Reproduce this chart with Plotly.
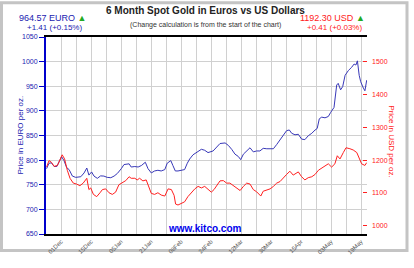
import plotly.graph_objects as go

# ---------------- data ----------------
# x = trading-day index from the start of the 6-month window
eur_day = [0.2, 1.0, 1.8, 2.7, 3.6, 4.3, 5.2, 6.0, 6.9, 7.7, 8.8, 9.9, 11.6, 12.7, 13.6, 14.3,
           15.2, 16.0, 17.1, 18.2, 19.3, 20.4, 21.6, 22.7, 23.8, 25.1, 26.0, 27.7, 28.4, 29.6,
           30.7, 31.8, 33.1, 34.0, 35.1, 36.2, 37.3, 38.4, 39.6, 40.4, 41.6, 42.3, 43.1, 44.0,
           45.1, 46.2, 47.1, 47.9, 49.0, 50.7, 51.8, 52.9, 54.0, 55.7, 58.0, 59.7, 60.8, 61.9,
           63.0, 64.1, 64.9, 65.8, 66.9, 68.0, 69.1, 70.2, 71.3, 72.4, 73.6, 74.7, 75.8, 76.9,
           78.0, 79.1, 80.2, 81.1, 81.9, 83.0, 84.1, 85.2, 86.3, 87.4, 88.6, 89.7, 90.4, 91.1,
           91.9, 93.0, 94.1, 94.9, 96.0, 96.9, 97.4, 98.2, 98.9, 99.7, 100.8, 101.9, 102.7,
           103.3, 103.8, 104.4, 104.9, 105.8, 106.3, 106.9]
eur_price = [782.7, 793.7, 794.5, 787.2, 787.0, 795.7, 806.8, 799.0, 784.7, 780.8, 767.6, 765.0,
             766.3, 774.0, 784.0, 769.6, 776.0, 767.6, 763.0, 768.0, 767.6, 765.0, 764.3, 767.6,
             773.0, 782.7, 791.0, 792.5, 786.0, 787.0, 786.0, 789.0, 795.7, 782.7, 774.0, 778.0,
             779.4, 778.0, 780.8, 793.7, 799.0, 789.0, 778.0, 778.0, 779.4, 780.8, 793.7, 802.3,
             810.8, 816.7, 822.0, 820.0, 815.3, 818.6, 833.7, 834.9, 829.8, 821.9, 812.1, 807.4,
             801.0, 812.1, 818.6, 825.1, 816.7, 818.6, 818.6, 823.9, 823.1, 823.1, 823.1, 831.7,
             841.6, 851.4, 859.8, 861.2, 854.5, 851.4, 852.5, 842.7, 841.6, 849.4, 854.5, 861.2,
             864.3, 883.9, 887.3, 885.9, 888.6, 897.0, 906.9, 952.5, 955.9, 942.7, 949.4, 972.2,
             982.0, 988.6, 995.1, 993.1, 1001.6, 972.2, 959.2, 946.1, 940.8, 962.3]

usd_day = [0.2, 1.0, 1.8, 2.7, 3.8, 4.7, 5.4, 6.2, 7.1, 8.0, 9.1, 10.2, 11.3, 12.4, 13.6, 14.3,
           14.9, 15.8, 16.9, 18.0, 18.8, 19.9, 21.0, 22.1, 23.2, 24.3, 25.4, 26.6, 27.7, 28.4,
           29.6, 30.4, 31.2, 32.3, 33.4, 34.2, 35.1, 36.2, 37.3, 38.4, 39.6, 40.7, 41.8, 42.7,
           43.2, 44.0, 45.1, 46.2, 47.3, 48.4, 49.6, 50.7, 51.8, 52.9, 54.0, 55.1, 56.0, 57.0,
           58.0, 59.1, 60.2, 61.3, 63.0, 64.7, 65.8, 66.9, 68.0, 69.1, 70.2, 71.6, 72.4, 73.6,
           74.7, 75.8, 76.9, 78.0, 79.1, 80.2, 81.3, 82.4, 84.1, 85.2, 86.3, 87.4, 88.6, 89.7,
           90.8, 91.9, 93.0, 94.1, 95.2, 96.3, 97.1, 98.0, 99.1, 100.0, 101.3, 102.4, 103.6,
           104.4, 105.2, 106.3, 106.9]
usd_price = [1178.8, 1198.5, 1193.5, 1180.9, 1183.8, 1203.6, 1216.2, 1203.6, 1169.1, 1144.7,
             1130.0, 1127.1, 1122.1, 1130.0, 1144.7, 1110.3, 1115.3, 1095.6, 1088.8, 1100.6,
             1110.3, 1112.4, 1100.6, 1095.6, 1102.4, 1125.0, 1130.0, 1137.7, 1149.4, 1144.7,
             1144.7, 1139.7, 1144.7, 1136.8, 1139.7, 1120.0, 1098.6, 1095.6, 1100.6, 1093.6,
             1090.6, 1112.4, 1110.3, 1092.7, 1066.2, 1063.3, 1069.1, 1073.0, 1088.8, 1100.6,
             1112.4, 1120.0, 1115.3, 1120.0, 1110.3, 1102.4, 1110.3, 1125.0, 1136.8, 1137.7,
             1130.0, 1130.0, 1120.0, 1107.4, 1120.0, 1130.0, 1127.1, 1110.3, 1103.6, 1090.6,
             1105.3, 1110.3, 1112.4, 1120.0, 1130.0, 1134.7, 1146.5, 1156.5, 1166.2, 1154.4,
             1164.1, 1149.4, 1139.7, 1146.5, 1149.4, 1156.5, 1169.1, 1175.9, 1180.9, 1188.8,
             1178.8, 1188.8, 1213.3, 1203.6, 1223.0, 1237.7, 1234.7, 1230.9, 1223.0, 1203.6,
             1188.8, 1183.8, 1192.3]

date_ticks = [5, 15, 25, 35, 45, 55, 65, 75, 85, 95, 105]
date_labels = ["01Dec", "15Dec", "05Jan", "21Jan", "08Feb", "24Feb", "12Mar", "30Mar",
               "15Apr", "03May", "19May"]
eur_ticks = [650, 700, 750, 800, 850, 900, 950, 1000, 1050]
usd_ticks = [1000, 1100, 1200, 1300, 1400, 1500, 1575]
usd_labels = ["1000", "1100", "1200", "1300", "1400", "1500", ""]

# ---------------- layout geometry (pixels) ----------------
W, H = 414, 268
L, R, T, B = 46, 367, 37, 241
FONT = "Arial, Liberation Sans, sans-serif"
BLUE = "#1a1ab0"
RED = "#ff2020"


def px(x):
    return (x - L) / (R - L)


def py(y):
    return (B - y) / (B - T)


fig = go.Figure()
fig.add_trace(go.Scatter(x=eur_day, y=eur_price, mode="lines",
                         line=dict(color="#3838b8", width=1), yaxis="y", showlegend=False))
fig.add_trace(go.Scatter(x=usd_day, y=usd_price, mode="lines",
                         line=dict(color=RED, width=1), yaxis="y2", showlegend=False))

fig.update_layout(
    width=W, height=H,
    margin=dict(l=L, r=W - R, t=T, b=H - B, pad=0),
    paper_bgcolor="white", plot_bgcolor="white",
    font=dict(family=FONT),
    xaxis=dict(range=[0, 107], tickvals=date_ticks, ticktext=date_labels, tickangle=-45,
               tickfont=dict(size=6, color="#555555"), showgrid=True, gridcolor="#d0d0d0",
               gridwidth=1, minor=dict(tick0=0, dtick=5, showgrid=True, gridcolor="#d0d0d0"),
               showline=True, linecolor="black", linewidth=1.5, mirror=True, ticks="",
               zeroline=False, fixedrange=True),
    yaxis=dict(range=[650, 1050], tickvals=eur_ticks, tickfont=dict(size=7, color=BLUE),
               showgrid=True, gridcolor="#d0d0d0", showline=True, linecolor="#0000cc",
               linewidth=2, ticks="outside", ticklen=5, tickcolor="#0000cc", zeroline=False),
    yaxis2=dict(range=[975, 1575], overlaying="y", side="right", tickvals=usd_ticks,
                ticktext=usd_labels, tickfont=dict(size=7, color=RED), showgrid=False,
                ticks="inside", ticklen=4, tickcolor=RED, showline=False, zeroline=False,
                ticklabelstandoff=4),
)

ann = [
    dict(x=px(205), y=py(10), text="<b>6 Month Spot Gold in Euros vs US Dollars</b>",
         font=dict(size=10, color="#222222")),
    dict(x=px(17), y=py(17), xanchor="left",
         text="964.57 EURO <span style='color:#22aa22'>▲</span>",
         font=dict(size=9, color=BLUE)),
    dict(x=px(25), y=py(27), xanchor="left", text="+1.41 (+0.15%)",
         font=dict(size=8, color=BLUE)),
    dict(x=px(205), y=py(25), text="(Change calculation is from the start of the chart)",
         font=dict(size=7, color="#333333")),
    dict(x=px(367), y=py(17), xanchor="right",
         text="1192.30 USD <span style='color:#22aa22'>▲</span>",
         font=dict(size=9, color=RED)),
    dict(x=px(364), y=py(27), xanchor="right", text="+0.41 (+0.03%)",
         font=dict(size=8, color=RED)),
    dict(x=px(20), y=py(139), text="Price in EURO per oz.", textangle=-90,
         font=dict(size=8, color=BLUE)),
    dict(x=px(392), y=py(145), text="Price in USD per oz.", textangle=90,
         font=dict(size=8, color=RED)),
    dict(x=px(205), y=py(235), text="<b>www.kitco.com</b>",
         font=dict(size=10, color="#0000ee")),
]
for a in ann:
    a.setdefault("xanchor", "center")
    a.update(xref="paper", yref="paper", yanchor="middle", showarrow=False)
fig.update_layout(annotations=ann)

fig.add_shape(type="rect", xref="paper", yref="paper",
              x0=px(1.5), x1=px(407), y0=py(258), y1=py(1.5),
              line=dict(color="#c4c4c4", width=3), fillcolor="rgba(0,0,0,0)", layer="below")

fig.write_html("out.html")
